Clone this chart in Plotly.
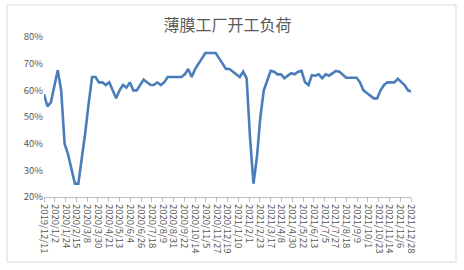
import pandas as pd
import plotly.graph_objects as go

title = "薄膜工厂开工负荷"
start_date = "2019-12-11"
load_pct = [
    58.5, 54, 55.5, 62, 67.5, 60, 40, 36, 30, 25,
    25, 34, 44, 55, 65, 65, 63, 63, 62, 63,
    60, 57, 60, 62, 61, 63, 60, 60, 62, 64,
    63, 62, 62, 63, 62, 63, 65, 65, 65, 65,
    65, 66, 68, 65, 68, 70, 72, 74, 74, 74,
    74, 72, 70, 68, 68, 67, 66, 65, 67, 64.5,
    42, 25, 35, 50, 60, 64, 67.3, 67, 66, 66,
    64.5, 65.5, 66.4, 66, 67, 67.3, 63, 62, 65.7, 65.5,
    66, 64.5, 66, 65.5, 66.5, 67.3, 67, 66, 64.7, 64.7,
    64.7, 64.7, 63, 60, 59, 58, 57, 57, 60, 62,
    63, 63, 63, 64.3, 63.3, 62, 60, 59.5,
]
tick_labels = [
    "2019/12/11", "2020/1/2", "2020/1/24", "2020/2/15", "2020/3/8", "2020/3/30",
    "2020/4/21", "2020/5/13", "2020/6/4", "2020/6/26", "2020/7/18", "2020/8/9",
    "2020/8/31", "2020/9/22", "2020/10/14", "2020/11/5", "2020/11/27", "2020/12/19",
    "2021/1/10", "2021/2/1", "2021/2/23", "2021/3/17", "2021/4/8", "2021/4/30",
    "2021/5/22", "2021/6/13", "2021/7/5", "2021/7/27", "2021/8/18", "2021/9/9",
    "2021/10/1", "2021/10/23", "2021/11/14", "2021/12/6", "2021/12/28",
]
y_ticks = [0.2, 0.3, 0.4, 0.5, 0.6, 0.7, 0.8]

dates = pd.date_range(start_date, periods=len(load_pct), freq="7D")
values = [v / 100 for v in load_pct]
tick_dates = pd.to_datetime(tick_labels, format="%Y/%m/%d")

fig = go.Figure(go.Scatter(
    x=dates, y=values, mode="lines",
    line=dict(color="#4A7EBB", width=2.6),
    hoverinfo="skip",
))

grey = "#595959"
fig.update_layout(
    width=464, height=270,
    margin=dict(l=44, r=53, t=37, b=73),
    paper_bgcolor="white", plot_bgcolor="white",
    showlegend=False,
    font=dict(family="Noto Sans CJK SC, Liberation Sans, sans-serif", color=grey),
    title=dict(text=title, x=0.5, xref="paper", xanchor="center",
               y=1 - 25 / 270, yref="container", yanchor="middle",
               font=dict(size=16, color=grey)),
    xaxis=dict(
        range=[tick_dates[0], tick_dates[-1]],
        tickvals=tick_dates, ticktext=tick_labels, tickangle=90,
        tickfont=dict(size=9.5, color=grey),
        showline=True, linecolor="#BFBFBF", linewidth=1,
        ticks="outside", ticklen=4, tickcolor="#BFBFBF",
        showgrid=False, zeroline=False,
    ),
    yaxis=dict(
        range=[0.2, 0.8], tickvals=y_ticks, tickformat=".0%",
        tickfont=dict(size=9.5, color=grey),
        showgrid=False, zeroline=False, showline=False, ticks="",
    ),
    shapes=[dict(type="rect", xref="paper", yref="paper",
                 x0=-0.1008, x1=1.1226, y0=-0.406, y1=1.2,
                 line=dict(color="#D9D9D9", width=1), layer="below")],
)

fig.write_html("out.html")
